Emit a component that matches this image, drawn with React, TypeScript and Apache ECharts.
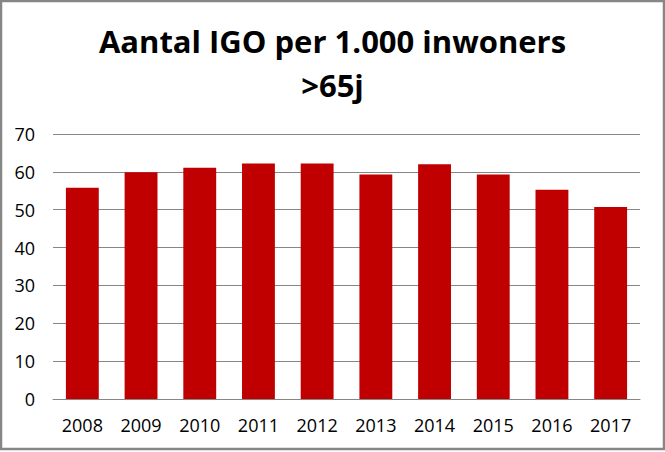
import React, { useEffect, useRef } from "react";
import * as echarts from "echarts";

const titleText = "Aantal IGO per 1.000 inwoners\n>65j";
const years = ["2008", "2009", "2010", "2011", "2012", "2013", "2014", "2015", "2016", "2017"];
const values = [55.8, 59.9, 61.1, 62.2, 62.2, 59.3, 62.0, 59.3, 55.3, 50.7];
const yMin = 0;
const yMax = 70;
const yInterval = 10;

export default function App() {
  const ref = useRef<HTMLDivElement>(null);
  useEffect(() => {
    if (!ref.current) return;
    const chart = echarts.init(ref.current, undefined, { renderer: "svg" });
    chart.setOption({
      animation: false,
      backgroundColor: "#ffffff",
      title: {
        text: titleText,
        left: "center",
        top: 14,
        textStyle: {
          fontFamily: "Open Sans",
          fontWeight: "bold",
          fontSize: 31,
          lineHeight: 44,
          color: "#000000",
        },
      },
      graphic: [
        {
          type: "rect",
          shape: { x: 1, y: 1, width: 663, height: 448 },
          style: { fill: "none", stroke: "#868686", lineWidth: 2.5 },
          silent: true,
        },
      ],
      grid: { left: 53, right: 25, top: 134, bottom: 53, containLabel: false },
      xAxis: {
        type: "category",
        data: years,
        axisLine: { show: true, lineStyle: { color: "#868686", width: 1 } },
        axisTick: { show: false },
        axisLabel: { fontFamily: "Open Sans", fontSize: 18, color: "#000000", margin: 17 },
      },
      yAxis: {
        type: "value",
        min: yMin,
        max: yMax,
        interval: yInterval,
        axisLine: { show: false },
        axisTick: { show: false },
        splitLine: { lineStyle: { color: "#868686", width: 1 } },
        axisLabel: { fontFamily: "Open Sans", fontSize: 18, color: "#000000", margin: 18 },
      },
      series: [
        {
          type: "bar",
          data: values,
          barCategoryGap: "44%",
          itemStyle: { color: "#C00000" },
        },
      ],
    });
    return () => chart.dispose();
  }, []);
  return (
    <div
      ref={ref}
      style={{ position: "fixed", left: 0, top: 0, width: 665, height: 452 }}
    />
  );
}
